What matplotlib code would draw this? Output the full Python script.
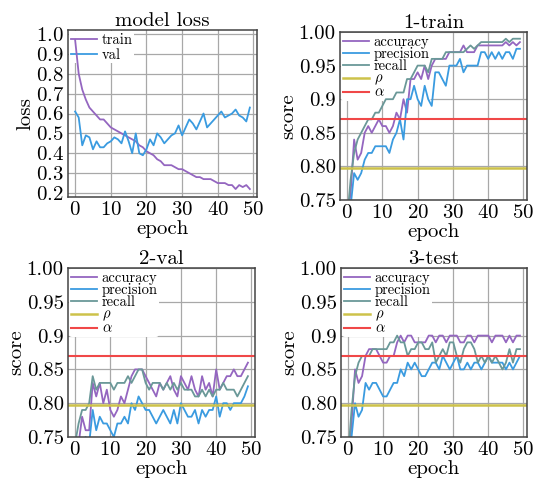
import matplotlib
matplotlib.use("Agg")
import matplotlib.pyplot as plt

plt.rcParams['font.family'] = 'serif'
plt.rcParams['font.serif'] = ['cmr10', 'DejaVu Serif']
plt.rcParams['mathtext.fontset'] = 'cm'
plt.rcParams['axes.formatter.use_mathtext'] = True

epochs = list(range(50))

loss_train = [0.97, 0.80, 0.72, 0.67, 0.63, 0.61, 0.59, 0.57, 0.57, 0.55,
              0.53, 0.52, 0.51, 0.50, 0.49, 0.48, 0.47, 0.46, 0.44, 0.43,
              0.41, 0.40, 0.39, 0.37, 0.36, 0.34, 0.34, 0.34, 0.33, 0.32,
              0.32, 0.31, 0.30, 0.29, 0.28, 0.28, 0.27, 0.27, 0.27, 0.26,
              0.25, 0.25, 0.25, 0.24, 0.24, 0.22, 0.24, 0.23, 0.24, 0.22]
loss_val = [0.61, 0.58, 0.44, 0.49, 0.48, 0.42, 0.46, 0.43, 0.43, 0.45,
            0.46, 0.48, 0.47, 0.45, 0.51, 0.46, 0.40, 0.50, 0.40, 0.39,
            0.42, 0.47, 0.44, 0.50, 0.48, 0.45, 0.47, 0.49, 0.50, 0.54,
            0.49, 0.53, 0.57, 0.55, 0.52, 0.56, 0.60, 0.53, 0.55, 0.57,
            0.59, 0.61, 0.58, 0.59, 0.60, 0.62, 0.59, 0.58, 0.56, 0.63]

train_acc = [0.72, 0.76, 0.84, 0.81, 0.82, 0.85, 0.86, 0.85, 0.86, 0.87,
             0.86, 0.86, 0.85, 0.86, 0.88, 0.87, 0.90, 0.88, 0.93, 0.93,
             0.94, 0.93, 0.95, 0.93, 0.95, 0.96, 0.96, 0.96, 0.96, 0.97,
             0.97, 0.97, 0.97, 0.98, 0.97, 0.97, 0.97, 0.98, 0.98, 0.98,
             0.98, 0.98, 0.98, 0.98, 0.98, 0.985, 0.98, 0.985, 0.98, 0.985]
train_prec = [0.70, 0.74, 0.79, 0.78, 0.79, 0.81, 0.82, 0.82, 0.83, 0.83,
              0.83, 0.83, 0.82, 0.84, 0.85, 0.87, 0.84, 0.90, 0.90, 0.92,
              0.90, 0.89, 0.92, 0.90, 0.89, 0.94, 0.94, 0.93, 0.92, 0.95,
              0.95, 0.95, 0.96, 0.94, 0.95, 0.95, 0.95, 0.95, 0.97, 0.97,
              0.96, 0.97, 0.96, 0.97, 0.96, 0.97, 0.97, 0.96, 0.975, 0.975]
train_rec = [0.72, 0.78, 0.82, 0.84, 0.85, 0.86, 0.87, 0.87, 0.88, 0.88,
             0.89, 0.90, 0.90, 0.90, 0.91, 0.91, 0.91, 0.93, 0.93, 0.94,
             0.95, 0.95, 0.95, 0.94, 0.96, 0.96, 0.96, 0.96, 0.97, 0.97,
             0.97, 0.97, 0.97, 0.97, 0.975, 0.98, 0.975, 0.98, 0.985, 0.985,
             0.985, 0.985, 0.985, 0.985, 0.985, 0.99, 0.985, 0.99, 0.99, 0.99]

val_acc = [0.73, 0.74, 0.78, 0.76, 0.76, 0.83, 0.81, 0.83, 0.80, 0.82,
           0.79, 0.78, 0.79, 0.81, 0.80, 0.82, 0.84, 0.85, 0.85, 0.85,
           0.84, 0.83, 0.82, 0.81, 0.83, 0.82, 0.83, 0.84, 0.82, 0.81,
           0.84, 0.83, 0.82, 0.84, 0.82, 0.81, 0.84, 0.82, 0.83, 0.81,
           0.85, 0.82, 0.83, 0.84, 0.84, 0.85, 0.84, 0.84, 0.85, 0.86]
val_prec = [0.70, 0.72, 0.74, 0.75, 0.74, 0.79, 0.76, 0.78, 0.77, 0.77,
            0.76, 0.75, 0.77, 0.77, 0.78, 0.77, 0.80, 0.79, 0.81, 0.80,
            0.79, 0.79, 0.78, 0.77, 0.78, 0.79, 0.78, 0.77, 0.79, 0.77,
            0.80, 0.79, 0.78, 0.78, 0.79, 0.77, 0.79, 0.78, 0.79, 0.79,
            0.81, 0.78, 0.80, 0.80, 0.79, 0.80, 0.80, 0.80, 0.81, 0.825]
val_rec = [0.74, 0.77, 0.79, 0.79, 0.80, 0.84, 0.82, 0.83, 0.83, 0.83,
           0.83, 0.82, 0.83, 0.83, 0.83, 0.84, 0.83, 0.84, 0.85, 0.85,
           0.83, 0.82, 0.83, 0.83, 0.83, 0.82, 0.83, 0.82, 0.83, 0.82,
           0.83, 0.82, 0.82, 0.82, 0.81, 0.81, 0.82, 0.81, 0.82, 0.81,
           0.82, 0.82, 0.83, 0.82, 0.82, 0.82, 0.81, 0.82, 0.83, 0.84]

test_acc = [0.70, 0.77, 0.85, 0.83, 0.84, 0.87, 0.88, 0.88, 0.88, 0.87,
            0.86, 0.86, 0.87, 0.87, 0.89, 0.90, 0.89, 0.90, 0.90, 0.89,
            0.89, 0.89, 0.89, 0.90, 0.90, 0.89, 0.90, 0.90, 0.89, 0.90,
            0.90, 0.90, 0.89, 0.89, 0.90, 0.90, 0.89, 0.90, 0.90, 0.90,
            0.90, 0.89, 0.90, 0.90, 0.90, 0.89, 0.90, 0.89, 0.90, 0.90]
test_prec = [0.70, 0.75, 0.80, 0.78, 0.79, 0.83, 0.82, 0.83, 0.83, 0.82,
             0.81, 0.81, 0.82, 0.83, 0.83, 0.85, 0.84, 0.86, 0.85, 0.86,
             0.85, 0.84, 0.84, 0.85, 0.86, 0.86, 0.85, 0.87, 0.86, 0.85,
             0.86, 0.87, 0.85, 0.85, 0.86, 0.85, 0.86, 0.86, 0.85, 0.86,
             0.87, 0.86, 0.86, 0.86, 0.86, 0.85, 0.86, 0.85, 0.86, 0.87]
test_rec = [0.72, 0.79, 0.84, 0.86, 0.87, 0.87, 0.87, 0.88, 0.88, 0.88,
            0.88, 0.88, 0.89, 0.89, 0.90, 0.89, 0.89, 0.87, 0.88, 0.88,
            0.89, 0.89, 0.88, 0.88, 0.89, 0.86, 0.87, 0.88, 0.87, 0.89,
            0.89, 0.87, 0.86, 0.88, 0.89, 0.89, 0.88, 0.86, 0.87, 0.86,
            0.87, 0.86, 0.87, 0.86, 0.85, 0.86, 0.88, 0.86, 0.88, 0.88]

rho = 0.797
alpha = 0.87

score_ticks = [0.75, 0.80, 0.85, 0.9, 0.95, 1.00]
score_ticklabels = ['0.75', '0.80', '0.85', '0.9', '0.95', '1.00']
loss_ticks = [0.2, 0.3, 0.4, 0.5, 0.6, 0.7, 0.8, 0.9, 1.0]

c_acc = '#9466c0'
c_prec = '#3a9be0'
c_rec = '#6a9898'
c_rho = '#cdc24a'
c_alpha = '#f04848'

fig = plt.figure(figsize=(5.33, 4.78), dpi=100)


def style(ax):
    ax.grid(True, color='#a8a8a8', linewidth=0.9)
    ax.set_axisbelow(True)
    for s in ax.spines.values():
        s.set_color('#444444')
        s.set_linewidth(1.1)
    ax.tick_params(labelsize=15, length=0, pad=3)
    ax.set_xlim(-2, 51)
    ax.set_xticks([0, 10, 20, 30, 40, 50])
    ax.set_xlabel('epoch', fontsize=15, labelpad=0.5)


def legend(ax, spacing):
    leg = ax.legend(loc='upper left', fontsize=10.5, frameon=True,
                    framealpha=1, edgecolor='none', handlelength=1.8,
                    borderpad=0.1, labelspacing=spacing, handletextpad=0.3,
                    borderaxespad=0.1)
    leg.set_zorder(1.5)


ax = fig.add_axes([68 / 533, 1 - 197 / 478, 189 / 533, 167 / 478])
ax.plot(epochs, loss_train, color=c_acc, linewidth=1.3, label='train')
ax.plot(epochs, loss_val, color=c_prec, linewidth=1.3, label='val')
style(ax)
ax.set_ylim(0.18, 1.02)
ax.set_yticks(loss_ticks)
ax.set_ylabel('loss', fontsize=15, labelpad=1)
ax.set_title('model loss', fontsize=15, pad=2)
legend(ax, 0.1)

panels = [
    ('1-train', [340 / 533, 1 - 200 / 478, 187 / 533, 168 / 478],
     train_acc, train_prec, train_rec),
    ('2-val', [68 / 533, 1 - 437 / 478, 187 / 533, 169 / 478],
     val_acc, val_prec, val_rec),
    ('3-test', [341 / 533, 1 - 437 / 478, 186 / 533, 169 / 478],
     test_acc, test_prec, test_rec),
]

for title, rect, acc, prec, rec in panels:
    ax = fig.add_axes(rect)
    ax.plot(epochs, acc, color=c_acc, linewidth=1.3, label='accuracy')
    ax.plot(epochs, prec, color=c_prec, linewidth=1.3, label='precision')
    ax.plot(epochs, rec, color=c_rec, linewidth=1.3, label='recall')
    ax.axhline(rho, color=c_rho, linewidth=1.8, label=r'$\rho$')
    ax.axhline(alpha, color=c_alpha, linewidth=1.5, label=r'$\alpha$')
    style(ax)
    ax.set_ylim(0.75, 1.0)
    ax.set_yticks(score_ticks)
    ax.set_yticklabels(score_ticklabels)
    ax.set_ylabel('score', fontsize=15, labelpad=1)
    ax.set_title(title, fontsize=15, pad=2)
    legend(ax, -0.1)

fig.savefig('out.png', dpi=100)
